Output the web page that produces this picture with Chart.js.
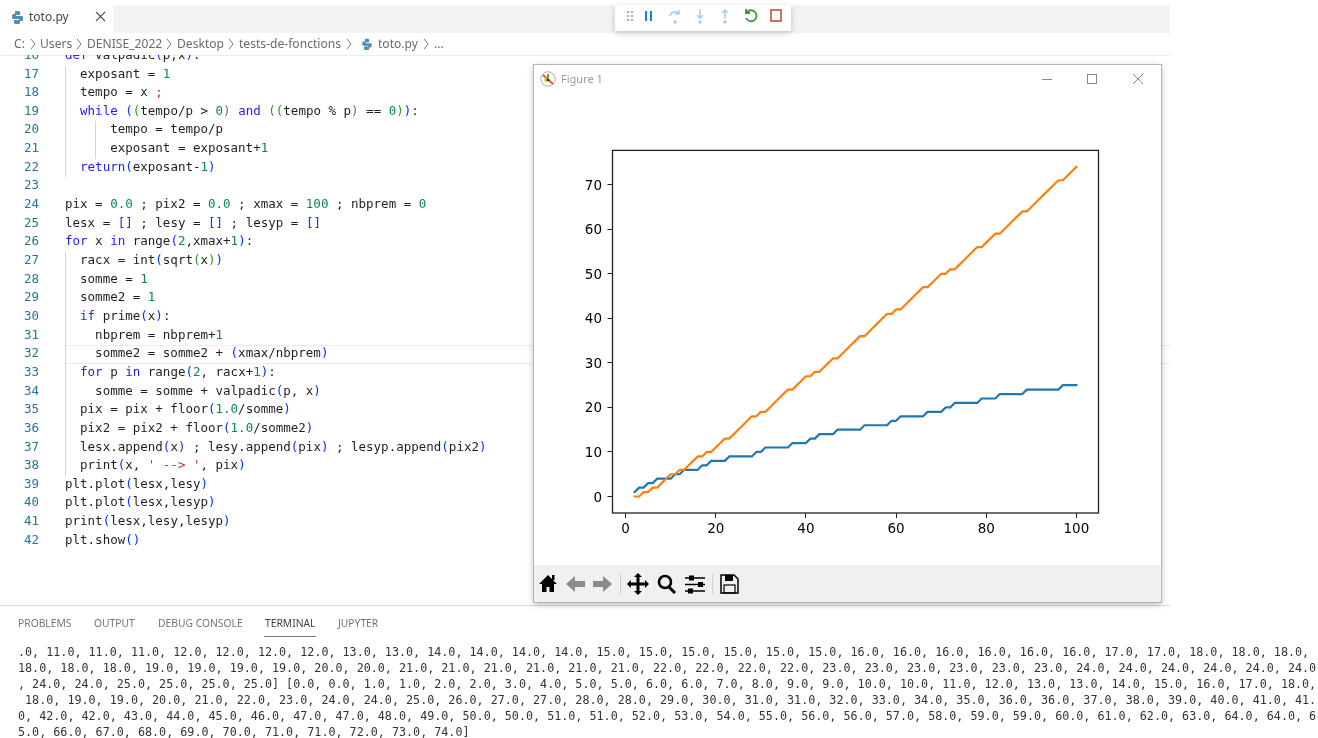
<!DOCTYPE html>
<html>
<head>
<meta charset="utf-8">
<title>toto.py</title>
<script src="https://cdn.jsdelivr.net/npm/chart.js@4/dist/chart.umd.min.js"></script>
<style>
  html, body { margin: 0; padding: 0; background: #fff; overflow: hidden; }
  #page { position: relative; width: 1318px; height: 738px; overflow: hidden; filter: blur(0.45px); font-family: "Noto Sans", sans-serif; }
  .abs { position: absolute; white-space: pre; }
  #tabbar { position: absolute; left: 113px; top: 5px; width: 1057px; height: 28px; background: #f3f3f3; }
  #editor { position: absolute; left: 0; top: 55px; width: 533px; height: 500px; overflow: hidden; }
  .code { position: absolute; left: 65px; font: 12.5px/18px "DejaVu Sans Mono", monospace; color: #1f1f1f; white-space: pre; }
  .ln { position: absolute; left: 0; width: 39px; text-align: right; font: 12.5px/18px "DejaVu Sans Mono", monospace; color: #237893; }
  .k { color: #2222ee; } .n { color: #098658; } .b { color: #0431fa; } .g { color: #319331; } .r { color: #c8332b; }
  .guide { position: absolute; width: 1px; background: #d3d3d3; }
  .crumb { position: absolute; top: 36px; font-size: 12.1px; line-height: 16px; color: #6a6a6a; white-space: pre; }
  .ptab { position: absolute; top: 615px; font-size: 10.3px; line-height: 16px; color: #757575; white-space: pre; }
  .term { position: absolute; left: 18px; font: 11.73px/16px "DejaVu Sans Mono", monospace; color: #333; white-space: pre; }
  #debug { position: absolute; left: 615px; top: 5px; width: 176px; height: 26px; background: #fff; box-shadow: 0 2px 6px rgba(0,0,0,.22); }
  #figure { position: absolute; left: 534px; top: 65px; width: 627px; height: 537px; background: #fff; outline: 1px solid #b5b5b5; box-shadow: 0 2px 7px rgba(0,0,0,.3); }
  #figtitle { position: absolute; left: 27px; top: 6px; font-size: 11px; line-height: 16px; color: #9a9a9a; }
  #figtools { position: absolute; left: 0; top: 500px; width: 627px; height: 37px; background: #f0f0f0; }
  #chartbox { position: absolute; left: 0; top: 30px; width: 627px; height: 470px; }
</style>
</head>
<body>
<div id="page">
  <div id="tabbar"></div>
  <svg class="abs" style="left:11px;top:10px" width="13" height="14" viewBox="0 0 13 14"><path d="M4 1h4l1 1v3H5v1h6l1 1v3l-1 1H9v2l-1 1H4l-1-1v-3h5V9H2L1 8V5l1-1h2z" fill="#4f8fb3"/></svg>
  <div class="abs" style="left:29px;top:9px;font-size:12px;line-height:16px;color:#444">toto.py</div>
  <svg class="abs" style="left:95px;top:11px" width="11" height="11"><path d="M1 1l9 9M10 1l-9 9" stroke="#555" stroke-width="1.1"/></svg>

  <div id="debug"></div>
  <svg class="abs" style="left:615px;top:5px" width="176" height="26" viewBox="0 0 176 26">
    <g fill="#aaa"><rect x="12" y="6" width="2" height="2"/><rect x="16" y="6" width="2" height="2"/><rect x="12" y="10" width="2" height="2"/><rect x="16" y="10" width="2" height="2"/><rect x="12" y="14" width="2" height="2"/><rect x="16" y="14" width="2" height="2"/></g>
    <path d="M31 6v10M36 6v10" stroke="#1a85d8" stroke-width="2"/>
    <g stroke="#a9d0ee" stroke-width="1.6" fill="none"><path d="M55 11a5 5 0 0 1 9-2M64 5v4h-4"/><path d="M85 4v9M82 10l3 3 3-3"/><path d="M110 14V5M107 8l3-3 3 3"/></g>
    <g fill="#a9d0ee"><circle cx="60" cy="17" r="1.8"/><circle cx="85" cy="17" r="1.8"/><circle cx="110" cy="17" r="1.8"/></g>
    <path d="M132 7a5.5 5.5 0 1 1-1 6M131 4v4h4" stroke="#3f9142" stroke-width="1.8" fill="none"/>
    <rect x="156" y="5" width="10" height="11" fill="none" stroke="#c4503c" stroke-width="1.6"/>
  </svg>

  <div class="crumb" style="left:14px">C:</div>
  <div class="crumb" style="left:40px">Users</div>
  <div class="crumb" style="left:87px">DENISE_2022</div>
  <div class="crumb" style="left:177px">Desktop</div>
  <div class="crumb" style="left:239px">tests-de-fonctions</div>
  <svg class="abs" style="left:361px;top:38px" width="12" height="12" viewBox="0 0 13 14"><path d="M4 1h4l1 1v3H5v1h6l1 1v3l-1 1H9v2l-1 1H4l-1-1v-3h5V9H2L1 8V5l1-1h2z" fill="#4f8fb3"/></svg>
  <div class="crumb" style="left:378px">toto.py</div>
  <div class="crumb" style="left:434px">...</div>
  <svg class="abs" style="left:0;top:38px" width="440" height="12" fill="none" stroke="#777" stroke-width="1">
    <path d="M31 1l4 5-4 5M77 1l4 5-4 5M167 1l4 5-4 5M229 1l4 5-4 5M347 1l4 5-4 5M424 1l4 5-4 5"/>
  </svg>
  <div class="abs" style="left:0;top:55px;width:1170px;height:1px;background:#ececec"></div>

  <div id="editor"></div>
  <div class="abs" style="left:1161px;top:345px;width:9px;height:17px;border-top:1px solid #ececec;border-bottom:1px solid #ececec"></div>

  <div class="abs" style="left:0;top:605px;width:1170px;height:1px;background:#dcdcdc"></div>
  <div class="ptab" style="left:18px">PROBLEMS</div>
  <div class="ptab" style="left:94px">OUTPUT</div>
  <div class="ptab" style="left:158px">DEBUG CONSOLE</div>
  <div class="ptab" style="left:265px;color:#424242">TERMINAL</div>
  <div class="ptab" style="left:338px">JUPYTER</div>
  <div class="abs" style="left:264px;top:636px;width:52px;height:1px;background:#777"></div>
  <div id="terminal"></div>

  <div id="figure">
    <svg class="abs" style="left:6px;top:6px" width="16" height="16" viewBox="0 0 16 16">
      <circle cx="8" cy="8" r="7.2" fill="#fff" stroke="#999" stroke-width=".8"/>
      <path d="M3 4l10 9" stroke="#d9622b" stroke-width="2"/><path d="M5 10l3-3" stroke="#e4b71f" stroke-width="3"/><path d="M8 3v5" stroke="#6f9e3a" stroke-width="2"/><circle cx="8" cy="9" r="1.3" fill="#222"/>
    </svg>
    <div id="figtitle">Figure 1</div>
    <svg class="abs" style="left:507px;top:9px" width="110" height="11"><path d="M1 5.5h10" stroke="#888"/><rect x="46.5" y=".5" width="9" height="9" fill="none" stroke="#888"/><path d="M92 0l10 10M102 0l-10 10" stroke="#888"/></svg>
    <div id="chartbox"><canvas id="figChart" width="627" height="470"></canvas></div>
    <div id="figtools">
      <svg width="627" height="37" viewBox="0 0 627 37">
        <path d="M14 10L5 19h3v8h4.500v-5h3v5H20v-8h3z" fill="#000"/><rect x="18" y="10" width="2.500" height="5"/>
        <path d="M32 19l9-8v5h10v6H41v5z" fill="#8a8a8a"/>
        <path d="M78 19l-9-8v5H59v6h10v5z" fill="#8a8a8a"/>
        <rect x="86" y="9" width="1" height="20" fill="#ccc"/>
        <path d="M104 8l4 4h-2.500v5.500H111V15l4 4-4 4v-2.500h-5.500V26H108l-4 4-4-4h2.500v-5.500H97V23l-4-4 4-4v2.500h5.500V12H100z" fill="#000"/>
        <circle cx="131" cy="17" r="6" fill="none" stroke="#000" stroke-width="2.600"/><path d="M135 22l6 6" stroke="#000" stroke-width="3"/>
        <g stroke="#000" stroke-width="1.300"><path d="M151 13h20M151 19.500h20M151 26h20"/></g><g fill="#000"><rect x="155" y="10.500" width="5" height="5"/><rect x="164" y="17" width="5" height="5"/><rect x="154" y="23.500" width="5" height="5"/></g>
        <rect x="178" y="9" width="1" height="20" fill="#ccc"/>
        <path d="M187 10h13l4 4v14h-17z" fill="none" stroke="#000" stroke-width="1.500"/><rect x="191" y="10" width="8" height="6"/><rect x="190" y="20" width="11" height="8" fill="none" stroke="#000" stroke-width="1.200"/>
      </svg>
    </div>
  </div>
</div>

<script>
// values printed in the terminal of the screenshot
const lesx = [2, 3, 4, 5, 6, 7, 8, 9, 10, 11, 12, 13, 14, 15, 16, 17, 18, 19, 20, 21, 22, 23, 24, 25, 26, 27, 28, 29, 30, 31, 32, 33, 34, 35, 36, 37, 38, 39, 40, 41, 42, 43, 44, 45, 46, 47, 48, 49, 50, 51, 52, 53, 54, 55, 56, 57, 58, 59, 60, 61, 62, 63, 64, 65, 66, 67, 68, 69, 70, 71, 72, 73, 74, 75, 76, 77, 78, 79, 80, 81, 82, 83, 84, 85, 86, 87, 88, 89, 90, 91, 92, 93, 94, 95, 96, 97, 98, 99, 100];
const lesy = [1, 2, 2, 3, 3, 4, 4, 4, 4, 5, 5, 6, 6, 6, 6, 7, 7, 8, 8, 8, 8, 9, 9, 9, 9, 9, 9, 10, 10, 11, 11, 11, 11, 11, 11, 12, 12, 12, 12, 13, 13, 14, 14, 14, 14, 15, 15, 15, 15, 15, 15, 16, 16, 16, 16, 16, 16, 17, 17, 18, 18, 18, 18, 18, 18, 19, 19, 19, 19, 20, 20, 21, 21, 21, 21, 21, 21, 22, 22, 22, 22, 23, 23, 23, 23, 23, 23, 24, 24, 24, 24, 24, 24, 24, 24, 25, 25, 25, 25];
const lesyp = [0, 0, 1, 1, 2, 2, 3, 4, 5, 5, 6, 6, 7, 8, 9, 9, 10, 10, 11, 12, 13, 13, 14, 15, 16, 17, 18, 18, 19, 19, 20, 21, 22, 23, 24, 24, 25, 26, 27, 27, 28, 28, 29, 30, 31, 31, 32, 33, 34, 35, 36, 36, 37, 38, 39, 40, 41, 41, 42, 42, 43, 44, 45, 46, 47, 47, 48, 49, 50, 50, 51, 51, 52, 53, 54, 55, 56, 56, 57, 58, 59, 59, 60, 61, 62, 63, 64, 64, 65, 66, 67, 68, 69, 70, 71, 71, 72, 73, 74];
const xTicks = [0, 20, 40, 60, 80, 100];
const yTicks = [0, 10, 20, 30, 40, 50, 60, 70];

const codeLines = [
  [16, '<span class="k">def</span> valpadic<span class="b">(</span>p,x<span class="b">)</span>:'],
  [17, '  exposant = <span class="n">1</span>'],
  [18, '  tempo = x <span class="r">;</span>'],
  [19, '  <span class="k">while</span> <span class="b">(</span><span class="g">(</span>tempo/p &gt; <span class="n">0</span><span class="g">)</span> <span class="k">and</span> <span class="g">((</span>tempo % p<span class="g">)</span> == <span class="n">0</span><span class="g">)</span><span class="b">)</span>:'],
  [20, '      tempo = tempo/p'],
  [21, '      exposant = exposant+<span class="n">1</span>'],
  [22, '  <span class="k">return</span><span class="b">(</span>exposant-<span class="n">1</span><span class="b">)</span>'],
  [23, ''],
  [24, 'pix = <span class="n">0.0</span> ; pix2 = <span class="n">0.0</span> ; xmax = <span class="n">100</span> ; nbprem = <span class="n">0</span>'],
  [25, 'lesx = <span class="b">[]</span> ; lesy = <span class="b">[]</span> ; lesyp = <span class="b">[]</span>'],
  [26, '<span class="k">for</span> x <span class="k">in</span> range<span class="b">(</span><span class="n">2</span>,xmax+<span class="n">1</span><span class="b">)</span>:'],
  [27, '  racx = int<span class="b">(</span>sqrt<span class="g">(</span>x<span class="g">)</span><span class="b">)</span>'],
  [28, '  somme = <span class="n">1</span>'],
  [29, '  somme2 = <span class="n">1</span>'],
  [30, '  <span class="k">if</span> prime<span class="b">(</span>x<span class="b">)</span>:'],
  [31, '    nbprem = nbprem+<span class="n">1</span>'],
  [32, '    somme2 = somme2 + <span class="b">(</span>xmax/nbprem<span class="b">)</span>'],
  [33, '  <span class="k">for</span> p <span class="k">in</span> range<span class="b">(</span><span class="n">2</span>, racx+<span class="n">1</span><span class="b">)</span>:'],
  [34, '    somme = somme + valpadic<span class="b">(</span>p, x<span class="b">)</span>'],
  [35, '  pix = pix + floor<span class="b">(</span><span class="n">1.0</span>/somme<span class="b">)</span>'],
  [36, '  pix2 = pix2 + floor<span class="b">(</span><span class="n">1.0</span>/somme2<span class="b">)</span>'],
  [37, '  lesx.append<span class="b">(</span>x<span class="b">)</span> ; lesy.append<span class="b">(</span>pix<span class="b">)</span> ; lesyp.append<span class="b">(</span>pix2<span class="b">)</span>'],
  [38, '  print<span class="b">(</span>x, <span class="r">\' --&gt; \'</span>, pix<span class="b">)</span>'],
  [39, 'plt.plot<span class="b">(</span>lesx,lesy<span class="b">)</span>'],
  [40, 'plt.plot<span class="b">(</span>lesx,lesyp<span class="b">)</span>'],
  [41, 'print<span class="b">(</span>lesx,lesy,lesyp<span class="b">)</span>'],
  [42, 'plt.show<span class="b">()</span>']
];

const terminalLines = [
  '.0, 11.0, 11.0, 11.0, 12.0, 12.0, 12.0, 12.0, 13.0, 13.0, 14.0, 14.0, 14.0, 14.0, 15.0, 15.0, 15.0, 15.0, 15.0, 15.0, 16.0, 16.0, 16.0, 16.0, 16.0, 16.0, 17.0, 17.0, 18.0, 18.0, 18.0,',
  '18.0, 18.0, 18.0, 19.0, 19.0, 19.0, 19.0, 20.0, 20.0, 21.0, 21.0, 21.0, 21.0, 21.0, 21.0, 22.0, 22.0, 22.0, 22.0, 23.0, 23.0, 23.0, 23.0, 23.0, 23.0, 24.0, 24.0, 24.0, 24.0, 24.0, 24.0',
  ', 24.0, 24.0, 25.0, 25.0, 25.0, 25.0] [0.0, 0.0, 1.0, 1.0, 2.0, 2.0, 3.0, 4.0, 5.0, 5.0, 6.0, 6.0, 7.0, 8.0, 9.0, 9.0, 10.0, 10.0, 11.0, 12.0, 13.0, 13.0, 14.0, 15.0, 16.0, 17.0, 18.0,',
  ' 18.0, 19.0, 19.0, 20.0, 21.0, 22.0, 23.0, 24.0, 24.0, 25.0, 26.0, 27.0, 27.0, 28.0, 28.0, 29.0, 30.0, 31.0, 31.0, 32.0, 33.0, 34.0, 35.0, 36.0, 36.0, 37.0, 38.0, 39.0, 40.0, 41.0, 41.',
  '0, 42.0, 42.0, 43.0, 44.0, 45.0, 46.0, 47.0, 47.0, 48.0, 49.0, 50.0, 50.0, 51.0, 51.0, 52.0, 53.0, 54.0, 55.0, 56.0, 56.0, 57.0, 58.0, 59.0, 59.0, 60.0, 61.0, 62.0, 63.0, 64.0, 64.0, 6',
  '5.0, 66.0, 67.0, 68.0, 69.0, 70.0, 71.0, 71.0, 72.0, 73.0, 74.0]'
];

// editor text
const editor = document.getElementById('editor');
let html = '';
function lineTop(n) {
  return 73.5 + (n - 17) * 18.65 - 9 - 55;
}
html += '<div class="abs" style="left:65px;top:' + (345 - 55) + 'px;width:468px;height:17px;border-top:1px solid #ececec;border-bottom:1px solid #ececec"></div>';
html += '<div class="guide" style="left:65px;top:' + (lineTop(17) + 1) + 'px;height:' + (18.65 * 6) + 'px"></div>';
html += '<div class="guide" style="left:65px;top:' + (lineTop(27) + 1) + 'px;height:' + (18.65 * 12) + 'px"></div>';
html += '<div class="guide" style="left:95px;top:' + (lineTop(20) + 1) + 'px;height:' + (18.65 * 2) + 'px"></div>';
codeLines.forEach(function (l) {
  html += '<div class="ln" style="top:' + lineTop(l[0]) + 'px">' + l[0] + '</div>';
  html += '<div class="code" style="top:' + lineTop(l[0]) + 'px">' + l[1] + '</div>';
});
editor.innerHTML = html;

// terminal text
const terminal = document.getElementById('terminal');
terminalLines.forEach(function (t, i) {
  const d = document.createElement('div');
  d.className = 'term';
  d.style.top = (644 + i * 15.9) + 'px';
  d.textContent = t;
  terminal.appendChild(d);
});

// matplotlib style figure
const frame = {
  id: 'frame',
  afterDraw(chart) {
    const a = chart.chartArea, c = chart.ctx;
    c.save();
    c.strokeStyle = '#222';
    c.lineWidth = 1.3;
    c.strokeRect(a.left, a.top, a.right - a.left, a.bottom - a.top);
    c.restore();
  }
};

new Chart(document.getElementById('figChart'), {
  type: 'line',
  data: {
    datasets: [{
      data: lesx.map((x, i) => ({ x: x, y: lesy[i] })),
      borderColor: '#1f77b4',
      borderWidth: 2.2,
      borderCapStyle: 'square',
      borderJoinStyle: 'round',
      pointRadius: 0,
      order: 2
    }, {
      data: lesx.map((x, i) => ({ x: x, y: lesyp[i] })),
      borderColor: '#ff7f0e',
      borderWidth: 2.2,
      borderCapStyle: 'square',
      borderJoinStyle: 'round',
      pointRadius: 0,
      order: 1
    }]
  },
  options: {
    responsive: false,
    animation: false,
    devicePixelRatio: 1,
    layout: { padding: { left: 0, top: 55.4, right: 62.5, bottom: 0 } },
    plugins: { legend: { display: false }, tooltip: { enabled: false } },
    scales: {
      x: {
        type: 'linear',
        min: -2.9,
        max: 104.9,
        afterBuildTicks: s => { s.ticks = xTicks.map(v => ({ value: v })); },
        afterFit: s => { s.height = 52; },
        border: { display: false },
        grid: { drawOnChartArea: false, tickLength: 5, tickColor: '#222' },
        ticks: { color: '#000', padding: 3.5, maxRotation: 0, autoSkip: false, font: { family: 'DejaVu Sans', size: 13.5 } }
      },
      y: {
        min: -3.7,
        max: 77.7,
        afterBuildTicks: s => { s.ticks = yTicks.map(v => ({ value: v })); },
        afterFit: s => { s.width = 78.5; },
        border: { display: false },
        grid: { drawOnChartArea: false, tickLength: 5, tickColor: '#222' },
        ticks: { color: '#000', padding: 5.5, labelOffset: 1.5, autoSkip: false, font: { family: 'DejaVu Sans', size: 13.5 } }
      }
    }
  },
  plugins: [frame]
});
</script>
</body>
</html>
